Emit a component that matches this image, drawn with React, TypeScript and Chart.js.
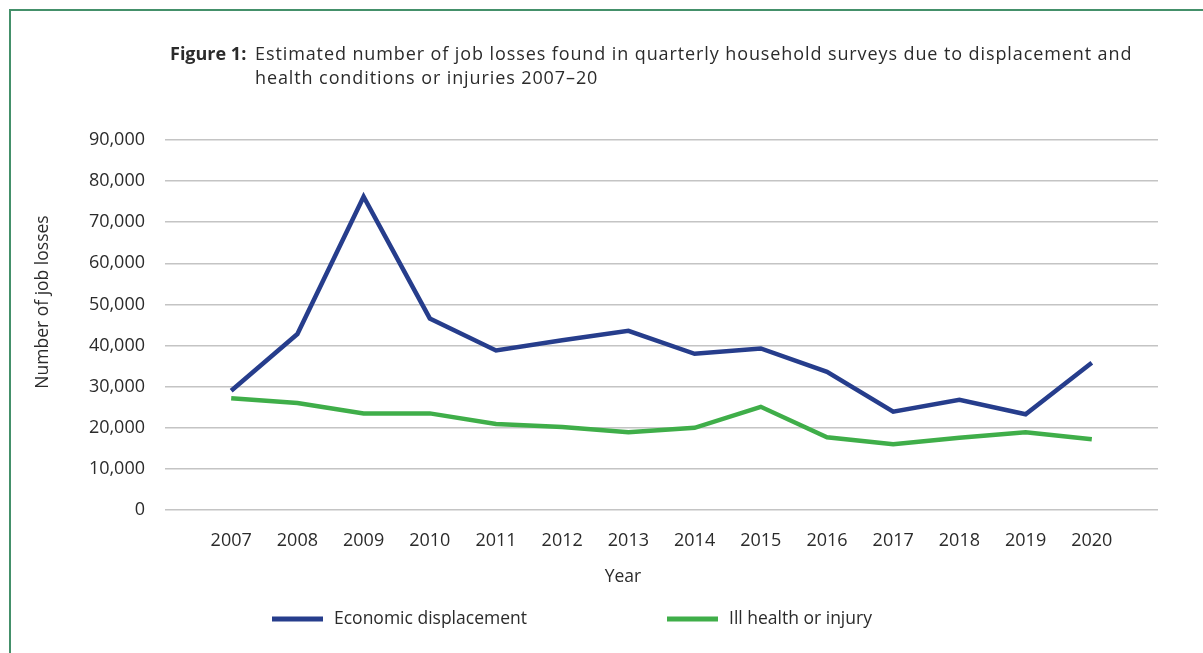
import { useEffect, useRef } from "react";
import { Chart, registerables } from "chart.js";

Chart.register(...registerables);

// Survey years and estimated job losses per year
const years = [2007, 2008, 2009, 2010, 2011, 2012, 2013, 2014, 2015, 2016, 2017, 2018, 2019, 2020];
const economicDisplacement = [29000, 42800, 76200, 46600, 38800, 41300, 43600, 38000, 39300, 33600, 23900, 26800, 23300, 35800];
const illHealthOrInjury = [27200, 26000, 23500, 23500, 20900, 20200, 18900, 20000, 25100, 17700, 16000, 17600, 18900, 17200];
const yTicks = [0, 10000, 20000, 30000, 40000, 50000, 60000, 70000, 80000, 90000];

const seriesNames = ["Economic displacement", "Ill health or injury"];
const titleBold = "Figure 1:";
const titleLines = [
  "Estimated number of job losses found in quarterly household surveys due to displacement and",
  "health conditions or injuries 2007–20",
];
const xAxisTitle = "Year";
const yAxisTitle = "Number of job losses";

const FONT = "'Open Sans', 'Noto Sans', sans-serif";
const TEXT = "#2b2b2b";
const BLUE = "#263d8c";
const GREEN = "#3fae49";
const FRAME = "#44906a";

const decorations = {
  id: "decorations",
  beforeDraw(chart: Chart) {
    const ctx = chart.ctx;
    ctx.save();
    ctx.fillStyle = "#ffffff";
    ctx.fillRect(0, 0, chart.width, chart.height);
    // green frame (top and left edges)
    ctx.strokeStyle = FRAME;
    ctx.lineWidth = 2;
    ctx.beginPath();
    ctx.moveTo(10, chart.height);
    ctx.lineTo(10, 10);
    ctx.lineTo(chart.width, 10);
    ctx.stroke();
    ctx.restore();
  },
  afterDraw(chart: Chart) {
    const ctx = chart.ctx as any;
    ctx.save();
    ctx.fillStyle = TEXT;
    ctx.textBaseline = "alphabetic";
    ctx.textAlign = "left";

    // title
    ctx.font = `bold 18px ${FONT}`;
    ctx.fillText(titleBold, 170, 60);
    ctx.font = `18px ${FONT}`;
    ctx.letterSpacing = "0.9px";
    ctx.fillText(titleLines[0], 255, 60);
    ctx.fillText(titleLines[1], 255, 84);
    ctx.letterSpacing = "0px";

    // axis titles
    ctx.font = `17.5px ${FONT}`;
    ctx.textAlign = "center";
    ctx.textBaseline = "middle";
    ctx.fillText(xAxisTitle, 623, 577);
    ctx.save();
    ctx.translate(43, 302);
    ctx.rotate(-Math.PI / 2);
    ctx.fillText(yAxisTitle, 0, 0);
    ctx.restore();

    // legend
    const items = [
      { x: 272, textX: 334 },
      { x: 667, textX: 729 },
    ];
    ctx.textAlign = "left";
    chart.data.datasets.forEach((ds, i) => {
      const it = items[i];
      ctx.strokeStyle = ds.borderColor as string;
      ctx.lineWidth = 5;
      ctx.beginPath();
      ctx.moveTo(it.x, 619);
      ctx.lineTo(it.x + 51, 619);
      ctx.stroke();
      ctx.fillStyle = TEXT;
      ctx.fillText(ds.label as string, it.textX, 619);
    });
    ctx.restore();
  },
};

export default function App() {
  const ref = useRef<HTMLCanvasElement>(null);

  useEffect(() => {
    document.body.style.margin = "0";
    const chart = new Chart(ref.current!, {
      type: "line",
      data: {
        datasets: [
          {
            label: seriesNames[0],
            data: years.map((y, i) => ({ x: y, y: economicDisplacement[i] })),
            borderColor: BLUE,
            backgroundColor: BLUE,
            borderWidth: 4.5,
            pointRadius: 0,
            tension: 0,
          },
          {
            label: seriesNames[1],
            data: years.map((y, i) => ({ x: y, y: illHealthOrInjury[i] })),
            borderColor: GREEN,
            backgroundColor: GREEN,
            borderWidth: 4.5,
            pointRadius: 0,
            tension: 0,
          },
        ],
      },
      options: {
        animation: false,
        responsive: false,
        layout: { padding: { top: 140, right: 45, bottom: 0, left: 0 } },
        plugins: { legend: { display: false }, title: { display: false }, tooltip: { enabled: false } },
        scales: {
          x: {
            type: "linear",
            min: years[0] - 1,
            max: years[years.length - 1] + 1,
            afterBuildTicks: (s: any) => {
              s.ticks = years.map((v) => ({ value: v }));
            },
            afterFit: (s: any) => {
              s.height = 143;
            },
            grid: { display: false },
            border: { display: false },
            ticks: {
              autoSkip: false,
              maxRotation: 0,
              padding: 12,
              color: TEXT,
              font: { family: FONT, size: 18 },
              callback: (v: any) => String(v),
            },
          },
          y: {
            min: yTicks[0],
            max: yTicks[yTicks.length - 1],
            afterBuildTicks: (s: any) => {
              s.ticks = yTicks.map((v) => ({ value: v }));
            },
            afterFit: (s: any) => {
              s.width = 165;
            },
            grid: { color: "#c4c4c4", lineWidth: 1.5, drawTicks: false },
            border: { display: false },
            ticks: {
              padding: 20,
              color: TEXT,
              font: { family: FONT, size: 18 },
              callback: (v: any) => Number(v).toLocaleString("en-US"),
            },
          },
        },
      },
      plugins: [decorations],
    });
    return () => chart.destroy();
  }, []);

  return (
    <div style={{ position: "absolute", left: 0, top: 0, width: 1203, height: 653 }}>
      <canvas ref={ref} width={1203} height={653} style={{ display: "block" }} />
    </div>
  );
}
